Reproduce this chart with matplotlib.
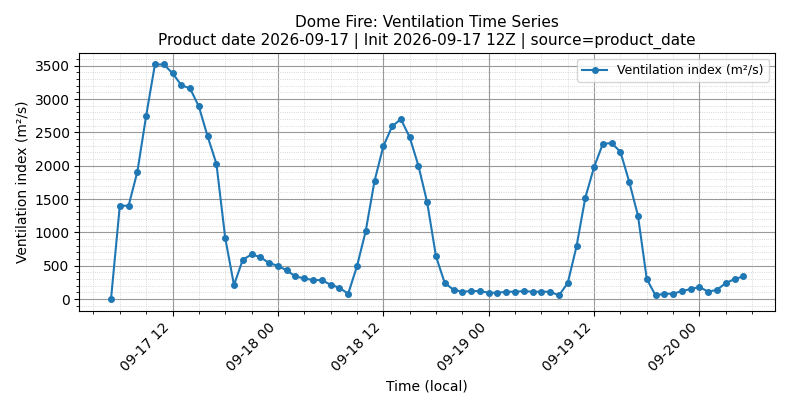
import numpy as np
import pandas as pd
import matplotlib
matplotlib.use("Agg")
import matplotlib.pyplot as plt
import matplotlib.dates as mdates
from matplotlib.ticker import MultipleLocator

times = pd.date_range("2026-09-17 05:00", periods=73, freq="h")
vent = [
    0, 1400, 1400, 1910, 2750, 3520, 3520, 3390, 3210, 3160, 2890, 2440, 2030, 920, 210,
    590, 670, 630, 540,
    500, 430, 340, 310, 285, 285, 215, 170, 80, 490, 1020, 1770, 2290, 2590, 2700, 2430,
    2000, 1450, 640, 240, 140, 110, 120, 120,
    95, 95, 110, 110, 120, 110, 110, 110, 55, 240, 790, 1520, 1980, 2330, 2340, 2210,
    1760, 1250, 300, 55, 80, 80, 120, 150,
    180, 110, 140, 240, 300, 340,
]

fig, ax = plt.subplots(figsize=(7.9, 4.09), dpi=100)
ax.plot(times, vent, marker='o', markersize=4, color='#1f77b4', label='Ventilation index (m²/s)')

ax.set_title('Dome Fire: Ventilation Time Series\nProduct date 2026-09-17 | Init 2026-09-17 12Z | source=product_date', fontsize=11)
ax.set_xlabel('Time (local)')
ax.set_ylabel('Ventilation index (m²/s)')

ax.xaxis.set_major_locator(mdates.HourLocator(byhour=[0, 12]))
ax.xaxis.set_minor_locator(mdates.HourLocator(byhour=range(0, 24, 3)))
ax.xaxis.set_major_formatter(mdates.DateFormatter('%m-%d %H'))
ax.yaxis.set_major_locator(MultipleLocator(500))
ax.yaxis.set_minor_locator(MultipleLocator(100))
plt.setp(ax.get_xticklabels(), rotation=45, ha='right')

ax.grid(True, which='major', color='#999999', linewidth=0.8)
ax.grid(True, which='minor', color='#cccccc', linestyle=':', linewidth=0.6)
ax.legend(loc='upper right', fontsize=9)

plt.tight_layout()
plt.savefig('out.png', dpi=100)
